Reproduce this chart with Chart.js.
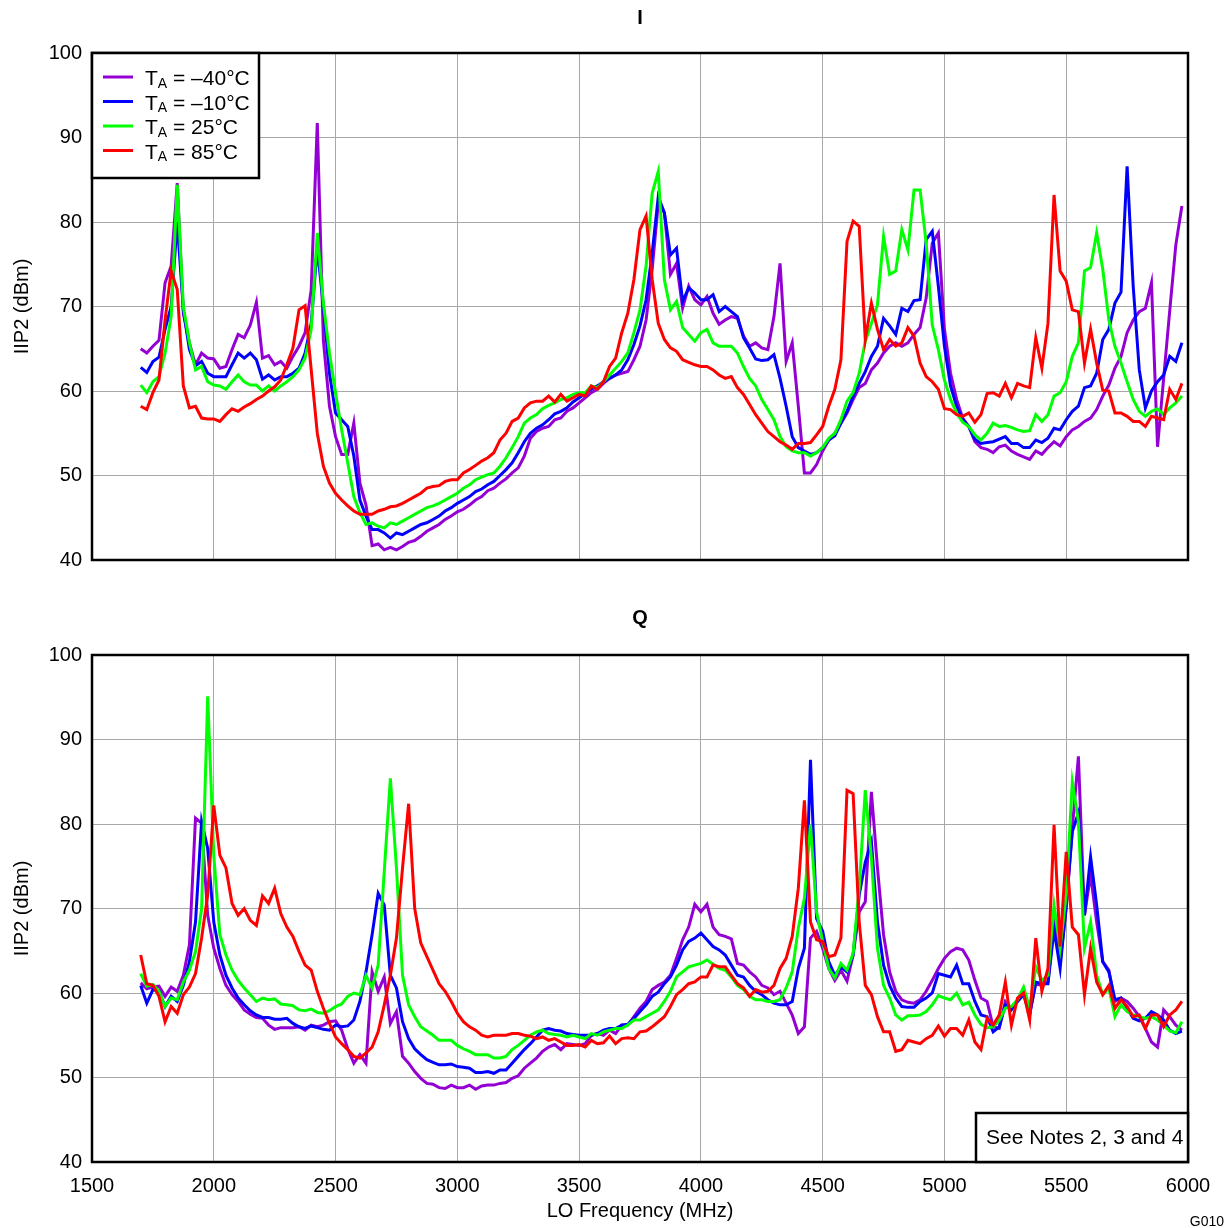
<!DOCTYPE html>
<html>
<head>
<meta charset="utf-8">
<script src="https://cdn.jsdelivr.net/npm/chart.js@4.4.1/dist/chart.umd.min.js"></script>
<style>
  html, body { margin: 0; padding: 0; background: #fff; }
  #wrap { position: relative; width: 1231px; height: 1228px; }
  canvas { position: absolute; left: 0; }
  #chart-i { top: 0; }
  #chart-q { top: 600px; }
</style>
</head>
<body>
<div id="wrap">
  <canvas id="chart-i" width="1231" height="600"></canvas>
  <canvas id="chart-q" width="1231" height="628"></canvas>
</div>
<script>
// LO sweep, MHz
const FREQ = [
  1700, 1725, 1750, 1775, 1800, 1825, 1850, 1875, 1900, 1925,
  1950, 1975, 2000, 2025, 2050, 2075, 2100, 2125, 2150, 2175,
  2200, 2225, 2250, 2275, 2300, 2325, 2350, 2375, 2400, 2425,
  2450, 2475, 2500, 2525, 2550, 2575, 2600, 2625, 2650, 2675,
  2700, 2725, 2750, 2775, 2800, 2825, 2850, 2875, 2900, 2925,
  2950, 2975, 3000, 3025, 3050, 3075, 3100, 3125, 3150, 3175,
  3200, 3225, 3250, 3275, 3300, 3325, 3350, 3375, 3400, 3425,
  3450, 3475, 3500, 3525, 3550, 3575, 3600, 3625, 3650, 3675,
  3700, 3725, 3750, 3775, 3800, 3825, 3850, 3875, 3900, 3925,
  3950, 3975, 4000, 4025, 4050, 4075, 4100, 4125, 4150, 4175,
  4200, 4225, 4250, 4275, 4300, 4325, 4350, 4375, 4400, 4425,
  4450, 4475, 4500, 4525, 4550, 4575, 4600, 4625, 4650, 4675,
  4700, 4725, 4750, 4775, 4800, 4825, 4850, 4875, 4900, 4925,
  4950, 4975, 5000, 5025, 5050, 5075, 5100, 5125, 5150, 5175,
  5200, 5225, 5250, 5275, 5300, 5325, 5350, 5375, 5400, 5425,
  5450, 5475, 5500, 5525, 5550, 5575, 5600, 5625, 5650, 5675,
  5700, 5725, 5750, 5775, 5800, 5825, 5850, 5875, 5900, 5925,
  5950, 5975
];

// I channel IIP2 (dBm)
const I_M40 = [
  65.0, 64.5, 65.3, 66.0, 72.8, 74.8, 84.6, 69.2, 65.7, 63.1,
  64.5, 63.9, 63.8, 62.7, 62.9, 64.9, 66.7, 66.3, 67.8, 70.5,
  63.9, 64.2, 63.1, 63.5, 62.7, 64.1, 65.3, 66.9, 72.0, 91.7,
  66.0, 58.2, 54.6, 52.5, 52.5, 56.2, 49.1, 46.5, 41.7, 41.9,
  41.2, 41.5, 41.2, 41.6, 42.1, 42.3, 42.8, 43.4, 43.8, 44.2,
  44.8, 45.2, 45.7, 46.0, 46.5, 47.1, 47.5, 48.2, 48.5, 49.1,
  49.6, 50.3, 50.9, 52.3, 54.4, 55.2, 55.6, 55.8, 56.6, 56.8,
  57.6, 58.0, 58.6, 59.2, 59.8, 60.2, 60.9, 61.5, 61.9, 62.1,
  62.3, 63.7, 65.3, 68.4, 74.4, 82.2, 81.1, 73.8, 75.1, 69.8,
  72.4, 70.8, 70.2, 71.2, 69.2, 67.9, 68.4, 68.8, 68.6, 66.5,
  65.3, 65.7, 65.1, 64.9, 68.8, 75.1, 63.5, 65.7, 58.2, 50.3,
  50.3, 51.3, 52.9, 54.2, 55.0, 56.2, 57.4, 59.0, 60.4, 60.9,
  62.5, 63.3, 64.5, 65.3, 65.7, 65.3, 65.7, 66.7, 67.5, 71.0,
  77.5, 78.7, 67.3, 62.1, 59.0, 56.8, 55.8, 54.0, 53.3, 53.1,
  52.7, 53.4, 53.6, 52.9, 52.5, 52.2, 51.9, 52.9, 52.5, 53.3,
  54.0, 53.5, 54.6, 55.4, 55.8, 56.4, 56.8, 57.8, 59.4, 60.7,
  62.7, 64.1, 66.9, 68.4, 69.4, 69.8, 72.8, 53.4, 61.5, 69.5,
  77.3, 81.9
];
const I_M10 = [
  62.8, 62.2, 63.5, 64.0, 67.3, 70.0, 80.0, 69.6, 64.9, 63.0,
  63.5, 62.1, 61.7, 61.7, 61.7, 63.1, 64.5, 63.9, 64.5, 63.7,
  61.4, 61.9, 61.3, 61.7, 61.7, 62.1, 62.7, 64.5, 68.0, 77.0,
  70.0, 62.1, 57.4, 56.6, 55.8, 52.3, 47.1, 45.2, 43.6, 43.6,
  43.2, 42.6, 43.2, 43.0, 43.4, 43.8, 44.2, 44.4, 44.8, 45.2,
  45.8, 46.2, 46.7, 47.1, 47.5, 48.1, 48.4, 48.9, 49.3, 50.0,
  50.7, 51.5, 52.7, 54.0, 55.0, 55.6, 56.0, 56.6, 57.3, 57.6,
  58.0, 58.7, 59.2, 59.7, 60.2, 60.6, 61.1, 61.5, 61.9, 62.5,
  63.7, 65.5, 67.7, 70.8, 76.3, 83.0, 81.1, 76.1, 76.9, 70.6,
  72.2, 71.6, 70.8, 70.8, 71.4, 69.4, 70.0, 69.4, 68.8, 66.3,
  65.1, 63.8, 63.6, 63.7, 64.3, 61.5, 58.2, 54.6, 53.3, 52.9,
  52.5, 52.7, 53.3, 54.2, 54.7, 56.2, 57.6, 59.4, 60.9, 62.3,
  64.1, 65.3, 68.6, 67.7, 66.7, 69.8, 69.4, 70.7, 70.8, 77.9,
  78.9, 72.4, 65.3, 60.6, 58.2, 56.6, 55.8, 54.3, 53.8, 53.9,
  54.0, 54.3, 54.6, 53.8, 53.8, 53.3, 53.3, 54.2, 53.9, 54.4,
  55.6, 55.4, 56.6, 57.6, 58.2, 60.4, 60.6, 62.1, 66.1, 67.3,
  70.4, 71.7, 86.6, 72.4, 62.5, 58.0, 60.0, 61.1, 61.9, 64.1,
  63.5, 65.7
];
const I_25 = [
  60.7, 59.8, 61.1, 61.7, 64.5, 68.8, 84.4, 70.0, 65.7, 62.5,
  62.9, 61.1, 60.7, 60.6, 60.2, 61.1, 61.9, 61.1, 60.7, 60.7,
  60.0, 60.6, 60.0, 60.6, 61.1, 61.7, 62.5, 63.9, 67.3, 78.7,
  70.4, 64.5, 59.8, 55.4, 51.5, 47.5, 45.6, 44.2, 44.4, 44.0,
  43.8, 44.4, 44.2, 44.6, 45.0, 45.4, 45.8, 46.2, 46.4, 46.7,
  47.1, 47.5, 47.9, 48.5, 48.9, 49.5, 49.8, 50.1, 50.3, 51.1,
  52.1, 53.3, 54.6, 56.2, 56.8, 57.2, 57.9, 58.3, 58.6, 59.0,
  59.2, 59.6, 59.8, 59.8, 60.6, 60.4, 61.1, 61.9, 62.7, 63.5,
  64.5, 66.9, 69.6, 74.8, 83.4, 86.0, 73.2, 69.6, 70.6, 67.5,
  66.7, 65.9, 66.9, 67.3, 65.7, 65.3, 65.3, 65.3, 64.5, 62.9,
  61.5, 60.6, 59.0, 57.8, 56.6, 54.6, 53.4, 52.9, 52.7, 52.7,
  52.3, 52.7, 53.3, 54.4, 55.0, 56.6, 58.8, 59.8, 62.1, 65.9,
  68.0, 70.2, 78.3, 73.8, 74.2, 79.1, 76.7, 83.8, 83.8, 77.5,
  67.8, 64.9, 61.3, 59.0, 57.4, 56.3, 55.8, 54.8, 54.2, 55.0,
  56.2, 55.8, 55.9, 55.7, 55.4, 55.2, 55.3, 57.2, 56.4, 57.2,
  59.4, 59.8, 61.1, 64.1, 65.7, 74.2, 74.6, 78.7, 74.4, 68.4,
  65.3, 63.3, 61.1, 59.0, 57.6, 57.0, 57.6, 57.9, 57.2, 58.0,
  58.6, 59.4
];
const I_85 = [
  58.2, 57.8, 59.8, 61.3, 68.4, 74.2, 72.0, 60.6, 58.0, 58.2,
  56.8, 56.7, 56.7, 56.4, 57.2, 57.9, 57.6, 58.1, 58.5, 59.0,
  59.4, 60.0, 60.5, 61.3, 63.1, 65.1, 69.6, 70.1, 62.5, 55.0,
  51.1, 49.1, 47.9, 47.1, 46.4, 45.8, 45.4, 45.4, 45.4, 45.8,
  46.0, 46.3, 46.4, 46.7, 47.1, 47.5, 47.9, 48.5, 48.7, 48.8,
  49.3, 49.5, 49.5, 50.3, 50.7, 51.2, 51.7, 52.1, 52.7, 54.2,
  55.0, 56.4, 56.8, 58.0, 58.6, 58.8, 58.8, 59.4, 58.7, 59.6,
  58.8, 59.2, 59.6, 59.4, 60.6, 60.2, 61.1, 62.9, 63.9, 66.9,
  69.2, 73.2, 79.1, 80.7, 73.2, 68.0, 66.1, 65.1, 64.7, 63.7,
  63.4, 63.1, 62.9, 62.9, 62.5, 61.9, 61.5, 61.7, 60.4, 59.6,
  58.4, 57.2, 56.2, 55.2, 54.6, 54.0, 53.6, 53.1, 53.8, 53.8,
  53.9, 54.8, 55.8, 58.2, 60.2, 63.7, 77.7, 80.1, 79.5, 66.1,
  70.4, 67.3, 64.9, 66.1, 65.3, 65.7, 67.5, 66.5, 63.3, 61.7,
  61.1, 60.2, 57.9, 57.8, 57.2, 57.0, 57.4, 56.3, 57.2, 59.7,
  59.8, 59.4, 60.9, 59.2, 60.9, 60.6, 60.4, 66.3, 62.7, 68.0,
  83.2, 74.2, 73.0, 69.6, 69.4, 63.3, 67.3, 63.3, 60.1, 60.0,
  57.4, 57.4, 57.0, 56.4, 56.4, 55.8, 57.0, 56.8, 56.6, 60.2,
  59.0, 60.9
];

// Q channel IIP2 (dBm)
const Q_M40 = [
  61.2, 60.5, 60.7, 60.8, 59.6, 60.7, 60.2, 62.1, 65.7, 80.7,
  80.1, 69.2, 65.3, 62.9, 60.9, 59.8, 59.0, 58.0, 57.5, 57.1,
  57.0, 56.2, 55.7, 55.9, 55.9, 55.9, 56.0, 55.6, 56.2, 56.0,
  56.2, 56.6, 56.7, 55.6, 53.4, 51.7, 52.7, 51.7, 62.5, 60.2,
  61.9, 56.4, 57.8, 52.5, 51.7, 50.7, 49.9, 49.3, 49.2, 48.8,
  48.7, 49.1, 48.8, 48.8, 49.1, 48.6, 49.0, 49.1, 49.1, 49.3,
  49.4, 49.9, 50.2, 51.1, 51.7, 52.3, 53.1, 53.6, 53.9, 53.3,
  54.0, 53.9, 53.8, 54.0, 55.0, 55.2, 55.0, 55.6, 55.2, 56.2,
  56.2, 57.2, 58.2, 59.0, 60.4, 60.9, 61.3, 62.1, 64.1, 66.3,
  67.8, 70.5, 69.6, 70.5, 67.8, 66.9, 66.7, 66.4, 63.5, 63.3,
  62.5, 61.9, 60.9, 60.6, 59.8, 60.2, 58.8, 57.4, 55.2, 56.0,
  66.5, 67.3, 65.3, 62.9, 61.5, 62.7, 61.4, 64.5, 69.6, 70.8,
  83.8, 74.8, 66.9, 62.5, 60.2, 59.2, 58.9, 58.8, 59.2, 60.2,
  61.5, 62.9, 64.1, 64.9, 65.3, 65.1, 63.9, 61.5, 59.4, 59.0,
  56.0, 55.8, 59.0, 58.2, 59.0, 60.2, 57.6, 61.1, 60.9, 61.3,
  68.4, 63.7, 70.0, 79.5, 88.0, 69.2, 74.0, 68.4, 63.7, 62.7,
  59.0, 59.4, 59.0, 58.2, 57.2, 55.8, 54.2, 53.6, 58.0, 57.2,
  56.2, 55.6
];
const Q_M10 = [
  60.9, 58.8, 60.4, 60.2, 58.4, 59.6, 59.0, 60.9, 63.7, 68.4,
  80.3, 77.1, 68.4, 64.5, 62.1, 60.6, 59.4, 58.6, 57.9, 57.4,
  57.1, 57.1, 56.9, 56.9, 57.0, 56.4, 56.0, 55.8, 56.1, 55.9,
  55.7, 55.6, 56.2, 56.0, 56.1, 56.8, 59.0, 62.5, 66.9, 71.8,
  70.4, 62.1, 60.6, 56.6, 54.6, 53.4, 52.7, 52.1, 51.8, 51.5,
  51.5, 51.6, 51.3, 51.2, 51.1, 50.6, 50.6, 50.7, 50.5, 50.9,
  50.9, 51.7, 52.5, 53.3, 54.0, 54.8, 55.6, 55.8, 55.6, 55.5,
  55.2, 55.1, 55.0, 55.0, 55.0, 55.2, 55.6, 55.8, 55.8, 56.2,
  56.3, 57.0, 57.8, 58.6, 59.6, 60.1, 61.1, 61.9, 63.3, 65.1,
  66.1, 66.5, 67.1, 66.3, 65.5, 65.1, 64.5, 63.3, 62.1, 61.9,
  60.9, 60.2, 59.8, 59.2, 58.8, 58.6, 58.6, 59.0, 62.9, 65.3,
  87.6, 68.8, 67.3, 63.7, 62.1, 63.1, 62.5, 64.5, 71.6, 75.5,
  77.9, 68.4, 63.3, 60.9, 59.4, 58.4, 58.3, 58.3, 59.0, 59.4,
  60.0, 62.3, 62.1, 61.9, 63.3, 61.1, 61.1, 59.0, 57.4, 57.2,
  55.4, 56.0, 58.6, 58.0, 59.0, 59.8, 57.4, 61.3, 61.1, 61.1,
  67.5, 62.9, 70.4, 79.1, 81.3, 69.2, 76.1, 70.4, 63.7, 62.5,
  59.2, 59.4, 58.2, 57.0, 56.7, 57.0, 57.8, 57.4, 56.8, 55.6,
  55.2, 55.5
];
const Q_25 = [
  62.3, 60.8, 61.0, 60.2, 58.4, 59.4, 59.2, 61.3, 62.7, 64.9,
  70.0, 95.1, 76.3, 66.9, 64.5, 62.7, 61.5, 60.6, 59.8, 59.0,
  59.4, 59.2, 59.3, 58.7, 58.6, 58.5, 58.0, 57.9, 58.1, 57.7,
  57.6, 57.9, 58.4, 58.7, 59.6, 60.0, 59.8, 62.1, 60.6, 63.3,
  74.4, 85.4, 74.8, 62.1, 58.6, 57.2, 56.0, 55.5, 55.0, 54.4,
  54.4, 54.4, 53.8, 53.4, 53.1, 52.7, 52.7, 52.7, 52.3, 52.3,
  52.5, 53.3, 53.8, 54.4, 55.0, 55.4, 55.6, 55.2, 55.1, 55.0,
  54.8, 55.0, 54.8, 54.6, 55.2, 55.0, 55.4, 55.6, 55.8, 55.8,
  56.2, 56.8, 56.8, 57.2, 57.6, 58.0, 59.0, 60.2, 61.9, 62.5,
  63.1, 63.3, 63.5, 63.9, 63.4, 62.9, 62.7, 61.9, 60.9, 60.4,
  59.6, 59.2, 59.2, 59.0, 59.0, 59.2, 60.6, 62.5, 67.7, 71.2,
  79.9, 69.6, 66.1, 62.9, 61.8, 63.5, 62.7, 64.7, 72.4, 84.0,
  76.0, 65.3, 60.9, 59.4, 57.4, 56.8, 57.3, 57.3, 57.4, 57.8,
  58.6, 59.7, 59.4, 59.2, 60.0, 58.6, 58.9, 57.4, 56.3, 55.9,
  56.0, 56.8, 58.2, 58.4, 59.2, 60.7, 58.2, 63.1, 61.5, 62.1,
  70.4, 65.3, 71.6, 85.0, 80.3, 65.3, 68.4, 62.1, 59.8, 60.6,
  57.2, 58.6, 57.8, 57.4, 57.2, 57.0, 57.2, 56.8, 56.2, 55.5,
  55.3, 56.6
];
const Q_85 = [
  64.5, 61.1, 60.9, 59.6, 56.6, 58.4, 57.6, 59.8, 60.7, 62.3,
  66.5, 71.6, 82.2, 76.3, 74.8, 70.6, 69.2, 70.0, 68.6, 68.0,
  71.5, 70.6, 72.4, 69.4, 67.8, 66.7, 64.9, 63.3, 62.7, 60.2,
  58.2, 56.4, 54.8, 54.0, 53.3, 52.5, 52.3, 52.9, 53.6, 55.4,
  58.6, 62.1, 66.5, 74.8, 82.4, 70.0, 65.9, 64.3, 62.7, 61.1,
  60.2, 59.0, 57.6, 56.6, 56.0, 55.6, 55.0, 54.8, 55.0, 55.0,
  55.0, 55.2, 55.2, 55.0, 54.9, 54.6, 54.8, 54.4, 54.6, 54.2,
  53.8, 53.8, 53.9, 53.6, 54.4, 54.0, 54.1, 54.9, 54.0, 54.6,
  54.7, 54.6, 55.4, 55.5, 56.0, 56.6, 57.2, 58.4, 59.8, 60.4,
  61.1, 61.3, 61.9, 61.9, 63.3, 63.1, 63.1, 62.1, 61.1, 60.6,
  59.6, 60.4, 60.1, 60.2, 60.9, 62.9, 64.1, 66.7, 72.4, 82.8,
  68.4, 66.3, 66.1, 64.3, 64.5, 66.5, 84.0, 83.6, 68.4, 60.9,
  59.8, 57.2, 55.4, 55.4, 53.1, 53.3, 54.4, 54.2, 54.0, 54.6,
  55.0, 56.1, 54.9, 55.8, 55.8, 55.0, 56.8, 54.2, 53.3, 57.0,
  56.2, 57.4, 61.3, 56.2, 59.4, 60.0, 56.8, 66.5, 60.2, 62.9,
  79.9, 65.5, 76.7, 67.8, 66.9, 59.8, 65.3, 61.3, 59.8, 60.9,
  58.2, 59.2, 58.4, 57.2, 57.4, 55.8, 57.4, 57.4, 56.0, 57.4,
  58.0, 59.0
];

const TEMPS = ['–40°C', '–10°C', '25°C', '85°C'];
const X_TICKS = [1500, 2000, 2500, 3000, 3500, 4000, 4500, 5000, 5500, 6000];
const Y_TICKS = [40, 50, 60, 70, 80, 90, 100];

const C_PURPLE = '#9400D3';
const C_BLUE = '#0000FF';
const C_GREEN = '#00FF00';
const C_RED = '#FF0000';
const COLORS = [C_PURPLE, C_BLUE, C_GREEN, C_RED];
const GRID = '#a8a8a8';
const FONT = "'Liberation Sans', Arial, sans-serif";

function drawLegend(ctx, a) {
  const x0 = a.left, y0 = a.top, w = 167, h = 125;
  ctx.fillStyle = '#fff';
  ctx.fillRect(x0, y0, w, h);
  ctx.strokeStyle = '#000';
  ctx.lineWidth = 2.5;
  ctx.strokeRect(x0, y0, w, h);
  TEMPS.forEach((t, i) => {
    const y = y0 + 24 + i * 24.5;
    ctx.strokeStyle = COLORS[i];
    ctx.lineWidth = 3;
    ctx.beginPath();
    ctx.moveTo(x0 + 11, y);
    ctx.lineTo(x0 + 41, y);
    ctx.stroke();
    ctx.fillStyle = '#000';
    ctx.textAlign = 'left';
    ctx.textBaseline = 'alphabetic';
    let x = x0 + 53;
    ctx.font = '21px ' + FONT;
    ctx.fillText('T', x, y + 8);
    x += ctx.measureText('T').width;
    ctx.font = '14px ' + FONT;
    ctx.fillText('A', x, y + 10.5);
    x += ctx.measureText('A').width;
    ctx.font = '21px ' + FONT;
    ctx.fillText(' = ' + t, x, y + 8);
  });
}

const panelDecor = {
  id: 'panelDecor',
  afterDraw(chart, args, opts) {
    const { ctx, chartArea: a } = chart;
    ctx.save();
    ctx.strokeStyle = '#000';
    ctx.lineWidth = 2.5;
    ctx.strokeRect(a.left, a.top, a.right - a.left, a.bottom - a.top);

    ctx.fillStyle = '#000';
    ctx.font = 'bold 20px ' + FONT;
    ctx.textAlign = 'center';
    ctx.textBaseline = 'middle';
    ctx.fillText(opts.title, (a.left + a.right) / 2, 18);

    if (opts.legend) drawLegend(ctx, a);

    if (opts.note) {
      const bx = 976, by = a.bottom - 49;
      ctx.fillStyle = '#fff';
      ctx.fillRect(bx, by, a.right - bx, a.bottom - by);
      ctx.strokeStyle = '#000';
      ctx.lineWidth = 2.5;
      ctx.strokeRect(bx, by, a.right - bx, a.bottom - by);
      ctx.fillStyle = '#000';
      ctx.font = '21px ' + FONT;
      ctx.textAlign = 'left';
      ctx.textBaseline = 'middle';
      ctx.fillText(opts.note, bx + 10, by + 25);
    }
    if (opts.code) {
      ctx.fillStyle = '#000';
      ctx.font = '14px ' + FONT;
      ctx.textAlign = 'right';
      ctx.textBaseline = 'middle';
      ctx.fillText(opts.code, 1224, chart.height - 6);
    }
    ctx.restore();
  }
};

function makePanel(id, series, opt) {
  const canvas = document.getElementById(id);
  if (!canvas) return;
  const order = [3, 2, 1, 0]; // red drawn on top, purple at the bottom

  new Chart(canvas, {
    type: 'line',
    data: {
      datasets: series.map((vals, i) => ({
        label: 'TA = ' + TEMPS[i],
        data: FREQ.map((f, k) => ({ x: f, y: vals[k] })),
        borderColor: COLORS[i],
        borderWidth: 3,
        pointRadius: 0,
        tension: 0,
        fill: false,
        order: order[i]
      }))
    },
    options: {
      responsive: false,
      animation: false,
      devicePixelRatio: 1,
      events: [],
      layout: { padding: { left: 0, right: 43, top: opt.top, bottom: opt.bottom } },
      plugins: {
        legend: { display: false },
        tooltip: { enabled: false },
        panelDecor: { title: opt.title, legend: opt.legend, note: opt.note, code: opt.code }
      },
      scales: {
        x: {
          type: 'linear',
          min: 1500,
          max: 6000,
          afterBuildTicks: (s) => { s.ticks = X_TICKS.map((v) => ({ value: v })); },
          afterFit: (s) => { s.height = opt.xHeight; },
          grid: { color: GRID, lineWidth: 1, drawTicks: false },
          border: { display: false },
          ticks: {
            display: opt.xLabels,
            color: '#000',
            padding: 12,
            font: { family: FONT, size: 20 },
            callback: (v) => String(v)
          },
          title: {
            display: opt.xLabels,
            text: 'LO Frequency (MHz)',
            color: '#000',
            padding: { top: 0, bottom: 5 },
            font: { family: FONT, size: 20 }
          }
        },
        y: {
          min: 40,
          max: 100,
          afterBuildTicks: (s) => { s.ticks = Y_TICKS.map((v) => ({ value: v })); },
          afterFit: (s) => { s.width = 92; },
          grid: { color: GRID, lineWidth: 1, drawTicks: false },
          border: { display: false },
          ticks: { color: '#000', padding: 10, font: { family: FONT, size: 20 }, callback: (v) => String(v) },
          title: {
            display: true,
            text: 'IIP2 (dBm)',
            color: '#000',
            padding: { top: 10, bottom: 0 },
            font: { family: FONT, size: 20 }
          }
        }
      }
    },
    plugins: [panelDecor]
  });
}

makePanel('chart-i', [I_M40, I_M10, I_25, I_85], {
  title: 'I', legend: true, top: 53, bottom: 40, xHeight: 0, xLabels: false
});
makePanel('chart-q', [Q_M40, Q_M10, Q_25, Q_85], {
  title: 'Q', note: 'See Notes 2, 3 and 4', code: 'G010', top: 55, bottom: 0, xHeight: 66, xLabels: true
});
</script>
</body>
</html>
